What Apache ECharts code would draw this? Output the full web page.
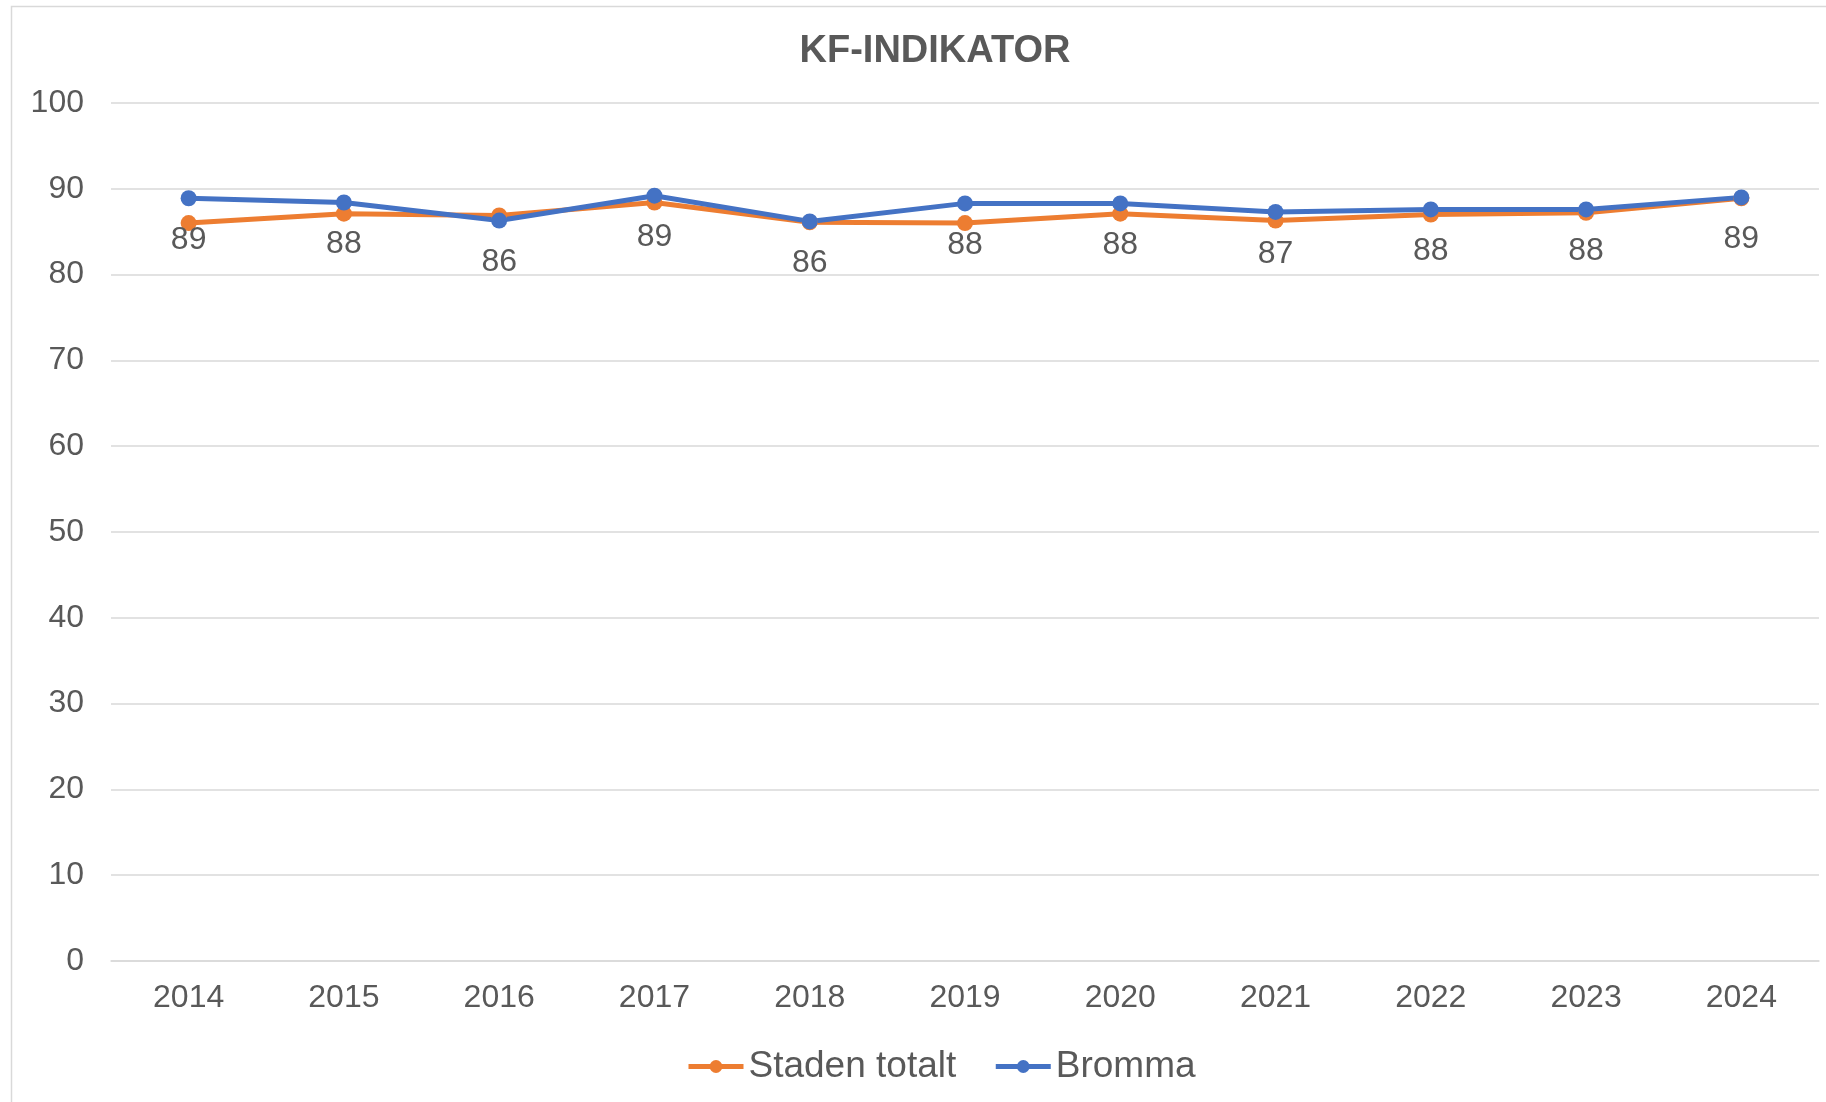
<!DOCTYPE html>
<html>
<head>
<meta charset="utf-8">
<script src="https://cdn.jsdelivr.net/npm/echarts@6/dist/echarts.min.js"></script>
<style>
  html, body { margin: 0; padding: 0; background: #fff; }
  #chart { width: 1826px; height: 1102px; }
</style>
</head>
<body>
<div id="chart"></div>
<script>
// data
const years = ['2014', '2015', '2016', '2017', '2018', '2019', '2020', '2021', '2022', '2023', '2024'];
const stadenTotalt = [86.0, 87.1, 86.9, 88.4, 86.1, 86.0, 87.1, 86.3, 87.0, 87.2, 88.9];
const bromma = [88.9, 88.4, 86.3, 89.2, 86.2, 88.3, 88.3, 87.3, 87.6, 87.6, 89.0];

const textGrey = '#595959';
const fontFamily = '"Liberation Sans", Arial, sans-serif';

const chart = echarts.init(document.getElementById('chart'));

const option = {
    animation: false,
    textStyle: { fontFamily: fontFamily },
    title: {
        text: 'KF-INDIKATOR',
        left: 930,
        top: 28,
        textAlign: 'center',
        textStyle: { color: textGrey, fontSize: 38, fontWeight: 'bold', fontFamily: fontFamily }
    },
    graphic: [{
        type: 'rect',
        shape: { x: 11.5, y: 6.5, width: 1830, height: 1110 },
        style: { fill: 'none', stroke: '#d9d9d9', lineWidth: 1.5 },
        silent: true
    }],
    legend: {
        data: ['Staden totalt', 'Bromma'],
        left: 681,
        top: 1043,
        itemWidth: 55,
        itemHeight: 16,
        itemGap: 37,
        lineStyle: { width: 5 },
        textStyle: { color: textGrey, fontSize: 37, fontFamily: fontFamily }
    },
    grid: { left: 111, right: 7, top: 103, bottom: 141 },
    xAxis: {
        type: 'category',
        data: years,
        boundaryGap: true,
        axisLine: { lineStyle: { color: '#d9d9d9', width: 1.5 } },
        axisTick: { show: false },
        axisLabel: { color: textGrey, fontSize: 32, margin: 21 }
    },
    yAxis: {
        type: 'value',
        min: 0,
        max: 100,
        interval: 10,
        axisLine: { show: false },
        axisTick: { show: false },
        axisLabel: { color: textGrey, fontSize: 32, margin: 27 },
        splitLine: { lineStyle: { color: '#d9d9d9', width: 1.5 } }
    },
    series: [{
        name: 'Staden totalt',
        type: 'line',
        data: stadenTotalt,
        symbol: 'circle',
        symbolSize: 16,
        color: '#ed7d31',
        lineStyle: { width: 5 },
        itemStyle: { color: '#ed7d31' }
    }, {
        name: 'Bromma',
        type: 'line',
        data: bromma,
        symbol: 'circle',
        symbolSize: 16,
        color: '#4472c4',
        lineStyle: { width: 5 },
        itemStyle: { color: '#4472c4' },
        label: {
            show: true,
            position: 'bottom',
            distance: 18,
            color: textGrey,
            fontSize: 32,
            formatter: p => Math.round(p.value)
        }
    }]
};

chart.setOption(option);
</script>
</body>
</html>
